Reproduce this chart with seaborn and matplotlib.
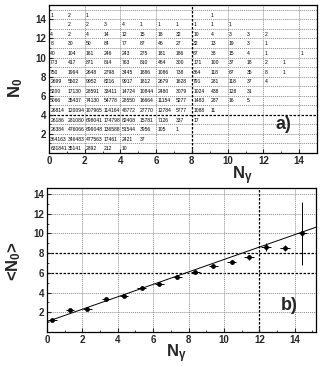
import seaborn as sns
from matplotlib import pyplot as plt
from matplotlib.ticker import MultipleLocator

# ---- panel a): event counts, one list per N0 row, index = N_gamma column
n0_row_0 = [631841, 35141, 2892, 212, 10]
n0_row_1 = [364163, 346483, 477563, 17461, 2421, 37]
n0_row_2 = [26384, 476066, 699048, 136588, 51544, 3956, 105, 1]
n0_row_3 = [26186, 281080, 698041, 174798, 82408, 15781, 7126, 337, 17]
n0_row_4 = [26814, 120094, 107965, 114164, 48772, 27770, 12784, 5777, 1088, 11]
n0_row_5 = [5066, 35437, 74130, 54778, 28550, 16664, 11154, 5277, 1483, 287, 16, 5]
n0_row_6 = [5200, 17130, 28591, 33411, 14724, 10844, 2480, 3079, 1024, 438, 128, 31]
n0_row_7 = [2699, 5502, 9952, 8216, 9917, 1812, 2679, 1628, 791, 281, 118, 37, 4]
n0_row_8 = [750, 1994, 2648, 2798, 3445, 1886, 1086, 738, 364, 118, 67, 35, 8, 1]
n0_row_9 = [773, 417, 871, 814, 763, 810, 464, 300, 171, 100, 37, 18, 2, 1]
n0_row_10 = [40, 104, 161, 246, 243, 275, 181, 186, 67, 38, 15, 4, 1, None, 1]
n0_row_11 = [8, 30, 50, 84, 77, 87, 46, 27, 32, 13, 19, 3, 1]
n0_row_12 = [4, 2, 4, 14, 12, 15, 18, 32, 10, 4, 3, 3, 2]
n0_row_13 = [None, 2, 2, 3, 4, 1, 1, 1, 1, 1, 1]
n0_row_14 = [1, 2, 1, None, None, None, None, None, None, 1]
table_rows = [n0_row_0, n0_row_1, n0_row_2, n0_row_3, n0_row_4, n0_row_5,
              n0_row_6, n0_row_7, n0_row_8, n0_row_9, n0_row_10, n0_row_11,
              n0_row_12, n0_row_13, n0_row_14]

# ---- panel b): mean N0 vs N_gamma with errors and linear fit
ng_mean = [0.30, 1.30, 2.28, 3.33, 4.35, 5.35, 6.35, 7.36, 8.38, 9.40, 10.43, 11.43, 12.40, 13.45, 14.42]
n0_mean = [1.19, 2.21, 2.38, 3.30, 3.63, 4.48, 4.82, 5.53, 6.04, 6.71, 7.12, 7.57, 8.62, 8.48, 10.0]
ng_err = [0.25, 0.25, 0.25, 0.25, 0.25, 0.25, 0.25, 0.25, 0.25, 0.25, 0.25, 0.28, 0.28, 0.28, 0.28]
n0_err = [0.08, 0.08, 0.08, 0.08, 0.08, 0.1, 0.1, 0.12, 0.12, 0.15, 0.2, 0.25, 0.4, 0.3, 3.2]
fit_intercept = 1.05
fit_slope = 0.63

sns.set_style("ticks")
plt.rcParams['font.family'] = ['Liberation Sans', 'DejaVu Sans']
plt.rcParams['mathtext.default'] = 'regular'

light = dict(color='#8c8c8c', linestyle=(0, (1, 1)), linewidth=0.7, zorder=0)
dark = dict(color='black', linestyle=(0, (2, 1.2)), linewidth=0.9, zorder=0)

fig = plt.figure(figsize=(3.29, 3.66), dpi=100)
W, H = 329, 366
ax1 = fig.add_axes([49 / W, 1 - 153 / H, (317 - 49) / W, (153 - 5) / H])
ax2 = fig.add_axes([47 / W, 1 - 332 / H, (316 - 47) / W, (332 - 188) / H])

# panel a
for j in range(1, 16):
    ax1.axhline(j, **(dark if j == 4 else light))
for i in range(2, 15, 2):
    ax1.axvline(i, **(dark if i == 8 else light))

for n0, row in enumerate(table_rows):
    for ng, val in enumerate(row):
        if val is None:
            continue
        ax1.text(ng + 0.07, n0 + 0.45, str(val), fontsize=3.6,
                 ha='left', va='center', color='black')

ax1.set_xlim(0, 15)
ax1.set_ylim(0, 15.5)
ax1.text(12.7, 2.55, 'a)', fontsize=13, fontweight='bold')

# panel b
for j in range(2, 15, 2):
    ax2.axhline(j, **(dark if j in (6, 8) else light))
for i in range(2, 15, 2):
    ax2.axvline(i, **(dark if i == 12 else light))

ax2.errorbar(ng_mean, n0_mean, xerr=ng_err, yerr=n0_err, fmt='none',
             ecolor='black', elinewidth=0.7, capsize=0, zorder=2)
sns.scatterplot(x=ng_mean, y=n0_mean, ax=ax2, color='black', s=12,
                edgecolor='black', linewidth=0, zorder=3)
ax2.axline((0, fit_intercept), slope=fit_slope, color='black', linewidth=0.7, zorder=2)

ax2.set_xlim(0, 15.2)
ax2.set_ylim(0, 14.6)
ax2.text(13.2, 2.2, 'b)', fontsize=13, fontweight='bold')

for ax in (ax1, ax2):
    ax.set_xticks(range(0, 15, 2))
    ax.set_yticks(range(2, 15, 2))
    ax.xaxis.set_minor_locator(MultipleLocator(1))
    ax.yaxis.set_minor_locator(MultipleLocator(1))
    ax.tick_params(which='major', direction='in', length=3, width=0.8,
                   labelsize=7, pad=2)
    ax.tick_params(which='minor', direction='in', length=1.5, width=0.6)
    for lab in ax.get_xticklabels() + ax.get_yticklabels():
        lab.set_fontweight('bold')
    for sp in ax.spines.values():
        sp.set_visible(True)
        sp.set_linewidth(0.9)
        sp.set_color('black')

ax1.set_xlabel(r'N$_{\gamma}$', fontsize=12, fontweight='bold')
ax1.set_ylabel(r'N$_0$', fontsize=12, fontweight='bold')
ax1.xaxis.set_label_coords(0.72, -0.075)
ax1.yaxis.set_label_coords(-0.09, 0.44)

ax2.set_xlabel(r'N$_{\gamma}$', fontsize=12, fontweight='bold')
ax2.set_ylabel(r'<N$_0$>', fontsize=12, fontweight='bold')
ax2.xaxis.set_label_coords(0.48, -0.075)
ax2.yaxis.set_label_coords(-0.09, 0.49)

fig.savefig('out.png', dpi=100)
